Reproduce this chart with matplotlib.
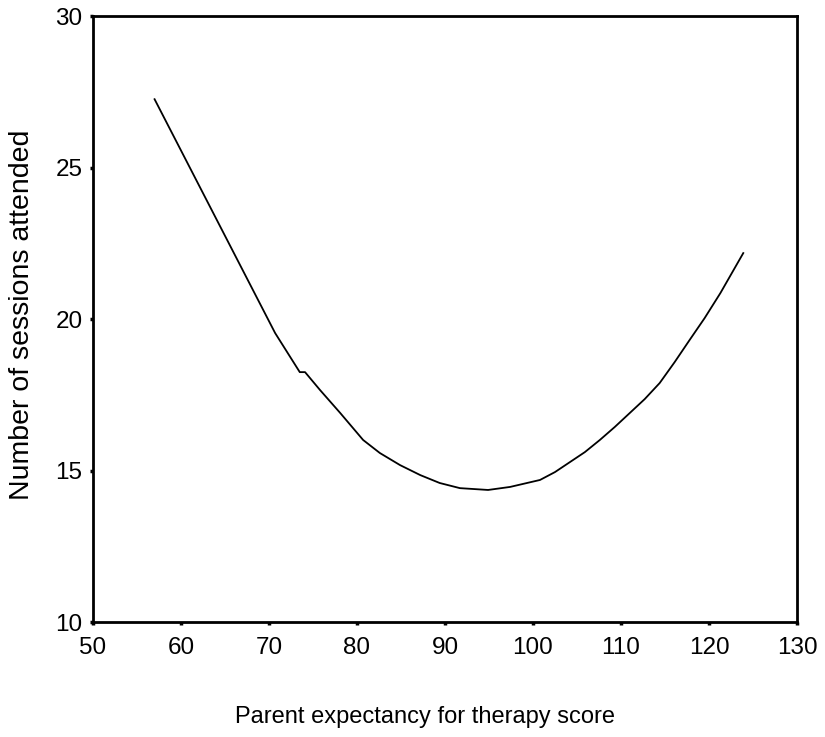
import matplotlib.pyplot as plt
import numpy as np

plt.rcParams['font.family'] = ['Liberation Sans', 'DejaVu Sans']

# curve
expectancy = [57.0, 70.7, 73.5, 74.1, 75.8, 78.1, 80.7, 82.6, 84.9, 87.2,
              89.4, 91.7, 94.9, 97.4, 100.8, 102.5, 104.2, 105.9, 107.6, 109.3,
              111.0, 112.7, 114.4, 116.1, 117.8, 119.5, 121.3, 122.6, 123.9]
sessions = [27.26, 19.54, 18.25, 18.25, 17.66, 16.90, 16.01, 15.58, 15.18, 14.85,
            14.59, 14.42, 14.36, 14.46, 14.69, 14.95, 15.28, 15.61, 16.01, 16.44,
            16.90, 17.36, 17.89, 18.58, 19.31, 20.03, 20.86, 21.52, 22.18]

xticks = [50, 60, 70, 80, 90, 100, 110, 120, 130]
yticks = [10, 15, 20, 25, 30]

fig = plt.figure(figsize=(8.25, 7.37), dpi=100)
ax = fig.add_axes([0.1127, 0.156, 0.8533, 0.822])

ax.plot(expectancy, sessions, color='black', lw=1.3)

ax.set_xlim(50, 130)
ax.set_ylim(10, 30)
ax.set_xticks(xticks)
ax.set_yticks(yticks)
ax.tick_params(direction='out', length=2.5, width=2.5, labelsize=17.5)
ax.tick_params(axis='x', pad=8)
ax.tick_params(axis='y', pad=5)
for s in ax.spines.values():
    s.set_linewidth(2)

ax.set_xlabel('Parent expectancy for therapy score', fontsize=17)
ax.xaxis.set_label_coords(0.472, -0.138)
ax.set_ylabel('Number of sessions attended', fontsize=20.5)
ax.yaxis.set_label_coords(-0.083, 0.507)

fig.savefig('out.png', dpi=100)
